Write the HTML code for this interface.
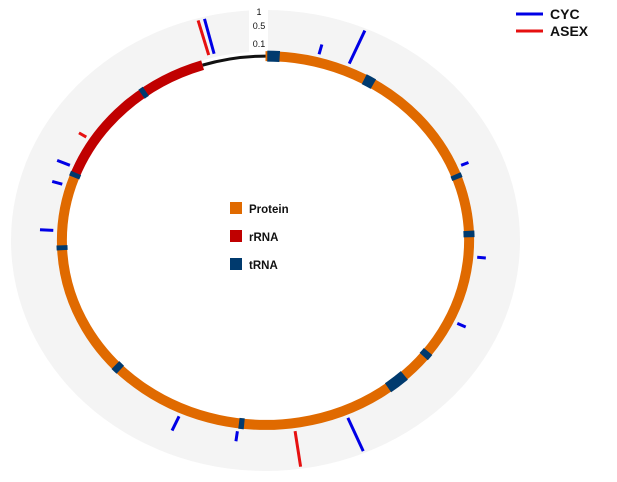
<!DOCTYPE html>
<html><head><meta charset="utf-8"><style>
html,body{margin:0;padding:0;background:#fff;}
svg{display:block;font-family:"Liberation Sans",sans-serif;}
</style></head><body>
<svg id="chart" width="617" height="482" viewBox="0 0 617 482"></svg>
<script>
// genome positions expressed in degrees (0-360, clockwise from top)
const segStarts = [0, 290, 342];
const segEnds = [290, 342, 360];
const segTypes = ['protein', 'rRNA', 'gap'];
const trnaStarts = [0.5, 29, 69, 87, 127, 137, 186, 225.5, 267, 290, 322.5];
const trnaEnds = [4, 32, 70.5, 89, 129, 143, 187.5, 227.5, 268.5, 291.5, 324];
const markSeries = ['CYC','ASEX','CYC','CYC','CYC','CYC','CYC','CYC','ASEX','CYC','CYC','CYC','CYC','CYC','ASEX'];
const markPos = [346, 344.5, 14.6, 23.2, 67, 95, 115.5, 157.2, 172, 187.6, 204, 273, 287, 293, 302.5];
const markValues = [1, 1, 0.2, 1, 0.15, 0.16, 0.17, 1, 1, 0.2, 0.32, 0.24, 0.19, 0.25, 0.16];
const scaleTicks = [0.1, 0.5, 1];
const legendSeries = ['CYC', 'ASEX'];
const legendTypes = ['Protein', 'rRNA', 'tRNA'];

const NS = 'http://www.w3.org/2000/svg';
const svg = document.getElementById('chart');
const cx = 265.5, cy = 240.5, RX = 254.5, RY = 230.5;
const colors = {protein:'#e06a00', rRNA:'#c00000', tRNA:'#003a6e', gap:'#111', CYC:'#0000e6', ASEX:'#e61010'};
function ang(p){ return p/360*2*Math.PI; }
function pt(p, r){ const a = ang(p); return [cx + r*RX*Math.sin(a), cy - r*RY*Math.cos(a)]; }
function rOf(v){ return 0.852 + 0.139*(Math.sqrt(v) - Math.sqrt(0.1))/(1 - Math.sqrt(0.1)); }
function mk(tag, attrs){ const e = document.createElementNS(NS, tag); for (const k in attrs) e.setAttribute(k, attrs[k]); svg.appendChild(e); return e; }
function arcPath(p0, p1, r){
  const a = pt(p0, r), b = pt(p1, r);
  const large = (p1 - p0) > 180 ? 1 : 0;
  return `M${a[0]},${a[1]} A${r*RX},${r*RY} 0 ${large} 1 ${b[0]},${b[1]}`;
}

let e = mk('path', {d:`M${cx-RX},${cy} a${RX},${RY} 0 1 0 ${2*RX},0 a${RX},${RY} 0 1 0 ${-2*RX},0 Z M${cx-0.82*RX},${cy} a${0.82*RX},${0.82*RY} 0 1 1 ${2*0.82*RX},0 a${0.82*RX},${0.82*RY} 0 1 1 ${-2*0.82*RX},0 Z`, fill:'#f4f4f4', 'fill-rule':'evenodd'});


e = mk('rect', {x:249, y:0, width:19, height:52, fill:'#fff'});



for (let i = 0; i < segStarts.length; i++){
  const t = segTypes[i];
  e = mk('path', {d:arcPath(segStarts[i], segEnds[i], 0.8), fill:'none', stroke:colors[t], 'stroke-width': t==='gap'?3:10});
  
  
}
for (let i = 0; i < trnaStarts.length; i++){
  e = mk('path', {d:arcPath(trnaStarts[i], trnaEnds[i], 0.8), fill:'none', stroke:colors.tRNA, 'stroke-width':11});
  
  
}
for (let i = 0; i < markPos.length; i++){
  const a = pt(markPos[i], 0.835), b = pt(markPos[i], rOf(markValues[i]));
  e = mk('line', {x1:a[0], y1:a[1], x2:b[0], y2:b[1], stroke:colors[markSeries[i]], 'stroke-width':3});
  
  
}
for (let i = 0; i < scaleTicks.length; i++){
  const y = cy - rOf(scaleTicks[i])*RY + 3;
  e = mk('text', {x:259, y:y, 'font-size':9, 'text-anchor':'middle', fill:'#111'});
  e.textContent = String(scaleTicks[i]);
  
  
}
for (let i = 0; i < legendSeries.length; i++){
  const y = 14 + i*17;
  e = mk('line', {x1:516, y1:y, x2:543, y2:y, stroke:colors[legendSeries[i]], 'stroke-width':3});
  
  
  e = mk('text', {x:550, y:y+5, 'font-size':14, 'font-weight':'bold', fill:'#111'});
  e.textContent = legendSeries[i];
  
  
}
const typeKeys = ['protein', 'rRNA', 'tRNA'];
for (let i = 0; i < legendTypes.length; i++){
  const y = 202 + i*28;
  e = mk('rect', {x:230, y:y, width:12, height:12, fill:colors[typeKeys[i]]});
  
  
  e = mk('text', {x:249, y:y+11, 'font-size':11.5, 'font-weight':'bold', fill:'#111'});
  e.textContent = legendTypes[i];
  
  
}
</script>
</body></html>
